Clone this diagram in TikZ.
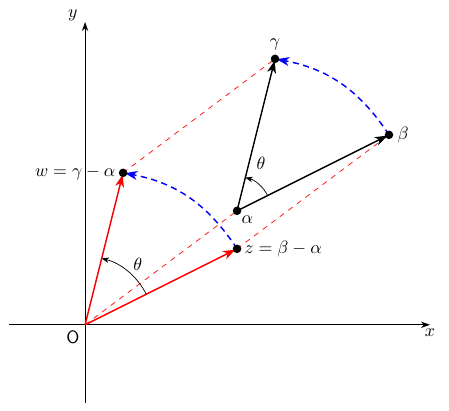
\documentclass[tikz,border=0pt]{standalone}
\usetikzlibrary{arrows.meta}
\begin{document}
\begin{tikzpicture}[x=0.75cm,y=0.75cm,
  axis/.style={semithick,-{Stealth[length=5pt,width=3.5pt,inset=1.5pt]}},
  vec/.style={thick,-{Stealth[length=7pt,width=5pt,inset=2pt]}},
  guide/.style={red,dashed,thin},
  rot/.style={blue,thick,dash pattern=on 3.5pt off 2.5pt,-{Stealth[length=7pt,width=5pt,inset=2pt]}},
  ang/.style={thin,-{Stealth[length=4pt,width=3pt,inset=1pt]}},
  dot/.style={circle,fill,inner sep=0pt,minimum size=4.8pt}]
\useasboundingbox (-2.24,-2.26) rectangle (9.58,8.55);
\coordinate (O) at (0,0);
\coordinate (xs) at (-2,0);
\coordinate (xe) at (9.08,0);
\coordinate (ys) at (0,-2.05);
\coordinate (ye) at (0,7.97);
\coordinate (a) at (4,3);
\coordinate (b) at (8,5);
\coordinate (g) at (5,7);
\coordinate (z) at (4,2);
\coordinate (w) at (1,4);
\draw[axis] (xs) -- (xe);
\draw[axis] (ys) -- (ye);
\node[below,inner sep=2pt] (xl) at (xe) {$x$};
\node[left,inner sep=4pt] (yl) at (0,8.15) {$y$};
\node[below left,inner sep=3pt] (ol) at (O) {\sffamily O};
\draw[guide] (O) -- (a);
\draw[guide] (w) -- (g);
\draw[guide] (z) -- (b);
\draw[vec,red,shorten >=1pt] (O) -- (z);
\draw[vec,red,shorten >=1pt] (O) -- (w);
\draw[vec,shorten >=1pt] (a) -- (b);
\draw[vec,shorten >=1pt] (a) -- (g);
\draw[rot,shorten >=1pt] (z) to[bend right=23] (w);
\draw[rot,shorten >=1pt] (b) to[bend right=23] (g);
\draw[ang] (O) ++(26.565:1.8) arc[start angle=26.565,end angle=75.964,radius=1.8];
\draw[ang] (a) ++(26.565:0.9) arc[start angle=26.565,end angle=75.964,radius=0.9];
\node[dot] (pa) at (a) {};
\node[dot] (pb) at (b) {};
\node[dot] (pg) at (g) {};
\node[dot] (pz) at (z) {};
\node[dot] (pw) at (w) {};
\node (t1) at (1.39,1.6) {$\theta$};
\node (t2) at (4.63,4.24) {$\theta$};
\node[above,inner sep=2pt] (gl) at (pg.north) {$\gamma$};
\node[right,inner sep=2pt] (bl) at (pb.east) {$\beta$};
\node[below right,inner sep=0.5pt] (al) at (pa.south east) {$\alpha$};
\node[right,inner sep=1.5pt] (zl) at (pz.east) {$z=\beta-\alpha$};
\node[left,inner sep=1.5pt] (wl) at (pw.west) {$w=\gamma-\alpha$};
\end{tikzpicture}
\end{document}
